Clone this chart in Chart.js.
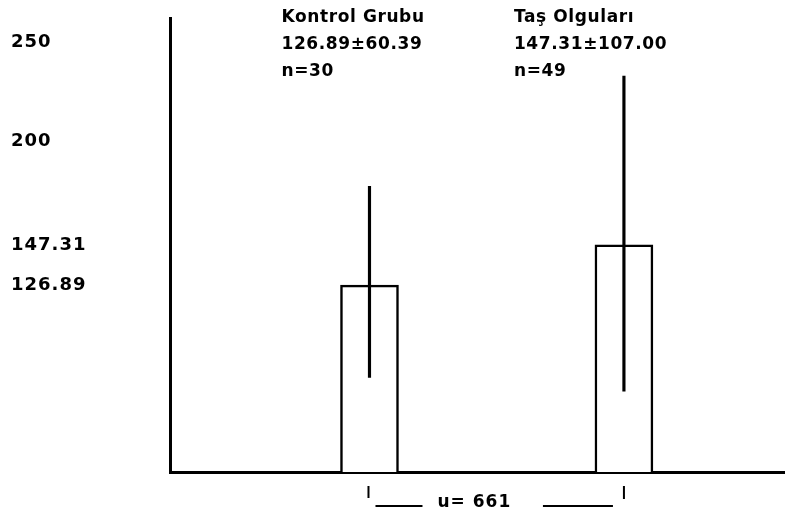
<!DOCTYPE html>
<html lang="tr">
<head>
    <meta charset="UTF-8">
    <script src="https://cdn.jsdelivr.net/npm/chart.js"></script>
    <title>Kontrol Grubu / Taş Olguları</title>
    <style>
        body {
            margin: 0;
            padding: 0;
            background: #fff;
        }
        #wrap {
            width: 785px;
            height: 517px;
            position: relative;
        }
    </style>
</head>
<body>
    <div id="wrap"><canvas id="myChart"></canvas></div>
    <script>
        // values
        const categories = ['Kontrol Grubu', 'Taş Olguları'];
        const means = [126.89, 147.31];
        const sds = [60.39, 107.00];
        const counts = [30, 49];
        // vertical error lines as drawn (low, high)
        const errLow = [80, 73];
        const errHigh = [177, 233];
        const tickValues = [250, 200, 147.31, 126.89];
        const uLabel = 'u= 661';

        const FONT = '"DejaVu Sans", sans-serif';

        // wider spacing for the axis numbers (scales are drawn before datasets)
        const spacingPlugin = {
            id: 'spacing',
            beforeDraw(chart) { chart.ctx.letterSpacing = '1px'; },
            beforeDatasetsDraw(chart) { chart.ctx.letterSpacing = '0px'; }
        };

        // text blocks above bars + the u-test bracket under the axis
        const notesPlugin = {
            id: 'notes',
            afterDraw(chart) {
                const ctx = chart.ctx;
                const xs = chart.scales.x;
                const offsets = [-88, -110];
                ctx.save();
                ctx.fillStyle = '#000';
                ctx.strokeStyle = '#000';
                ctx.font = 'bold 17px ' + FONT;
                ctx.letterSpacing = '0.6px';
                ctx.textBaseline = 'middle';
                ctx.textAlign = 'left';
                categories.forEach((name, i) => {
                    const left = xs.getPixelForValue(i + 1) + offsets[i];
                    ctx.fillText(name, left, 18);
                    ctx.fillText(means[i].toFixed(2) + '±' + sds[i].toFixed(2), left, 45);
                    ctx.fillText('n=' + counts[i], left, 72);
                });

                const a = xs.getPixelForValue(1);
                const b = xs.getPixelForValue(2);
                ctx.lineWidth = 2;
                ctx.beginPath();
                ctx.moveTo(a - 1, 486); ctx.lineTo(a - 1, 498);
                ctx.moveTo(b, 486); ctx.lineTo(b, 499);
                ctx.moveTo(a + 6, 506); ctx.lineTo(a + 53, 506);
                ctx.moveTo(b - 81, 506); ctx.lineTo(b - 11, 506);
                ctx.stroke();
                ctx.letterSpacing = '1px';
                ctx.fillText(uLabel, a + 68, 503);
                ctx.restore();
            }
        };

        const data = {
            datasets: [
                {
                    label: 'SD',
                    data: categories.map((c, i) => ({ x: i + 1, y: [errLow[i], errHigh[i]] })),
                    backgroundColor: '#000',
                    borderWidth: 0,
                    barThickness: 2.5,
                    grouped: false,
                    order: 0
                },
                {
                    label: 'Ortalama',
                    data: categories.map((c, i) => ({ x: i + 1, y: means[i] })),
                    backgroundColor: '#fff',
                    borderColor: '#000',
                    borderWidth: 2.5,
                    barThickness: 58,
                    grouped: false,
                    order: 1
                }
            ]
        };

        const config = {
            type: 'bar',
            data: data,
            options: {
                responsive: true,
                maintainAspectRatio: false,
                animation: false,
                layout: { padding: { left: 11, top: 18, right: 0, bottom: 0 } },
                plugins: {
                    legend: { display: false },
                    tooltip: { enabled: false }
                },
                scales: {
                    x: {
                        type: 'linear',
                        offset: false,
                        min: 0.216,
                        max: 2.633,
                        grid: { display: false, drawTicks: false },
                        border: { color: '#000', width: 3 },
                        ticks: { display: false },
                        afterFit: (scale) => { scale.height = 45; }
                    },
                    y: {
                        type: 'linear',
                        min: 32,
                        max: 262.5,
                        grid: { display: false, drawTicks: false },
                        border: { color: '#000', width: 3 },
                        afterBuildTicks: (scale) => {
                            scale.ticks = tickValues.map(v => ({ value: v }));
                        },
                        afterFit: (scale) => { scale.width = 159; },
                        ticks: {
                            autoSkip: false,
                            crossAlign: 'far',
                            padding: 0,
                            color: '#000',
                            font: { family: FONT, size: 18, weight: 'bold' },
                            callback: (v) => String(v)
                        }
                    }
                }
            },
            plugins: [spacingPlugin, notesPlugin]
        };

        const ctx = document.getElementById('myChart').getContext('2d');
        const myChart = new Chart(ctx, config);
    </script>
</body>
</html>
